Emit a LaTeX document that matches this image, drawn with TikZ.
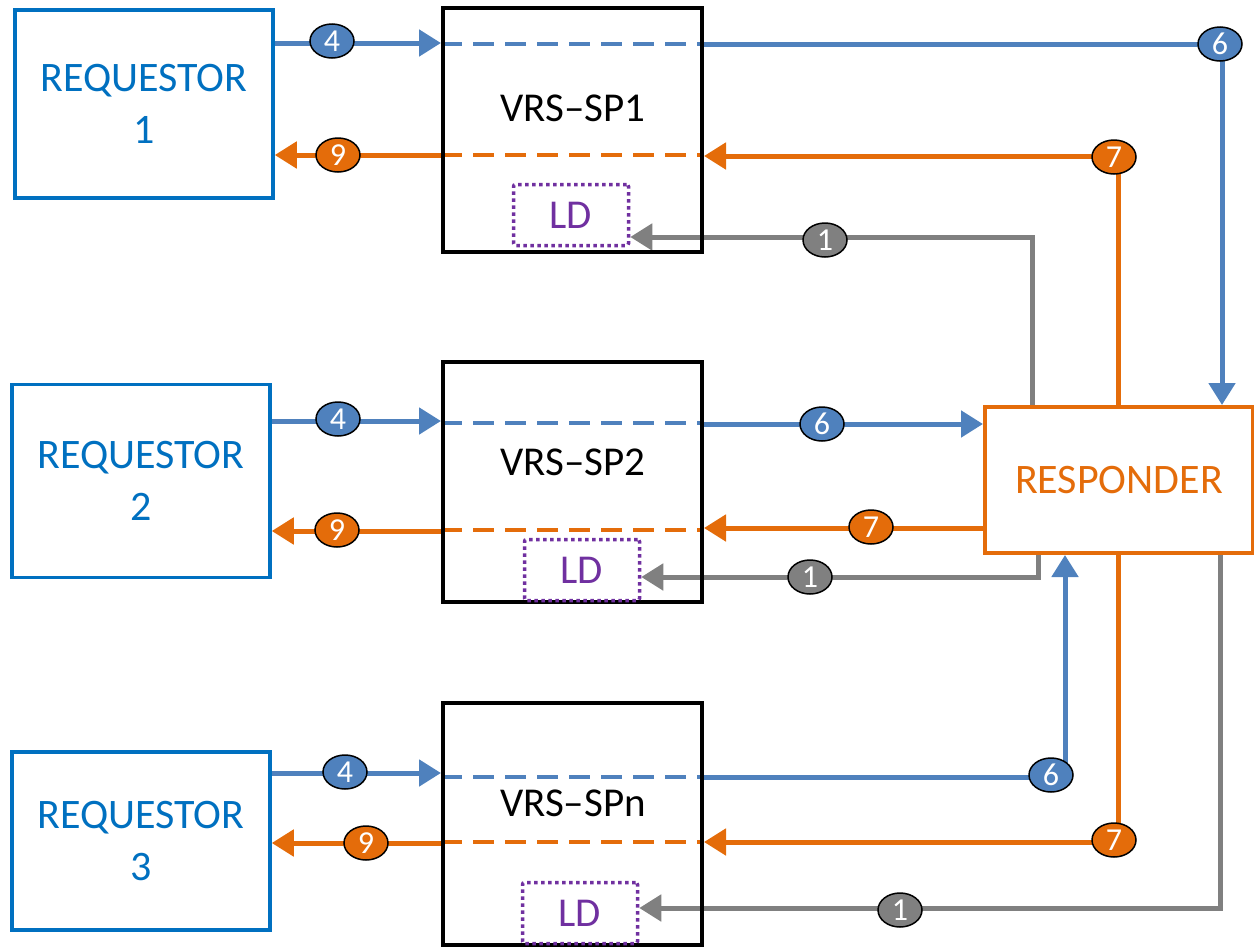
\documentclass[tikz,border=0pt]{standalone}
\usepackage{fontspec}
\setmainfont{Carlito}
\usetikzlibrary{arrows.meta,shapes.geometric}
\pgfdeclarelayer{background}
\pgfsetlayers{background,main}
\definecolor{reqblue}{HTML}{0070C0}
\definecolor{lblue}{HTML}{4F81BD}
\definecolor{orng}{HTML}{E46C0A}
\definecolor{gry}{HTML}{808080}
\definecolor{purp}{HTML}{7030A0}
\tikzset{
  reqbox/.style={draw=reqblue,line width=3.5pt,minimum width=258pt,align=center,text=reqblue,font=\fontsize{42}{52}\selectfont},
  spbox/.style={draw=black,line width=4pt,minimum width=259pt},
  splabel/.style={font=\fontsize{41}{44}\selectfont,text=black},
  ldbox/.style={draw=purp,line width=3.5pt,dash pattern=on 3.5pt off 3.5pt,minimum width=115pt,minimum height=61pt,text=purp,font=\fontsize{41}{44}\selectfont,rounded corners=2pt},
  respbox/.style={draw=orng,line width=4pt,minimum width=268pt,minimum height=146pt,text=orng,font=\fontsize{42}{48}\selectfont},
  badge/.style={ellipse,draw=black,line width=1.5pt,minimum width=44pt,minimum height=34pt,inner sep=0pt,text=white,font=\fontsize{32}{34}\selectfont},
  bbadge/.style={badge,fill=lblue},
  obadge/.style={badge,fill=orng},
  gbadge/.style={badge,fill=gry},
  arr/.style={-{Triangle[length=22pt,width=26pt]}},
  bline/.style={draw=lblue,line width=5pt},
  oline/.style={draw=orng,line width=5pt},
  gline/.style={draw=gry,line width=5pt},
  dline/.style={line width=4pt,dash pattern=on 21pt off 11pt},
}
\begin{document}
\begin{tikzpicture}[x=1pt,y=-1pt]
\useasboundingbox (0,0) rectangle (1254,948);
% boxes
\node[reqbox,minimum height=188pt] (req1) at (144,104) {REQUESTOR\\1};
\node[reqbox,minimum height=193pt] (req2) at (141,481) {REQUESTOR\\2};
\node[reqbox,minimum height=178pt] (req3) at (141,841) {REQUESTOR\\3};
\node[spbox,minimum height=244pt] (sp1) at (572.5,130) {};
\node[spbox,minimum height=240pt] (sp2) at (572.5,482) {};
\node[spbox,minimum height=242pt] (sp3) at (572.5,824) {};
\node[splabel] (sp1l) at (573,108) {VRS–SP1};
\node[splabel] (sp2l) at (573,462) {VRS–SP2};
\node[splabel] (sp3l) at (573,803) {VRS–SPn};
\node[ldbox] (ld1) at (571,215) {LD};
\node[ldbox] (ld2) at (582,570) {LD};
\node[ldbox] (ld3) at (580,913) {LD};
\node[respbox] (resp) at (1119,480) {RESPONDER};
% badges
\node[bbadge] (b4a) at (332,41) {4};
\node[obadge] (b9a) at (338,155) {9};
\node[bbadge] (b6a) at (1220,44) {6};
\node[obadge] (b7a) at (1114,157) {7};
\node[gbadge] (b1a) at (825,240) {1};
\node[bbadge] (b4b) at (338,419) {4};
\node[bbadge] (b6b) at (822,424) {6};
\node[obadge] (b9b) at (337,530) {9};
\node[obadge] (b7b) at (871,527) {7};
\node[gbadge] (b1b) at (810,577) {1};
\node[bbadge] (b4c) at (345,772) {4};
\node[bbadge] (b6c) at (1051,775) {6};
\node[obadge] (b9c) at (366,843) {9};
\node[obadge] (b7c) at (1114,840) {7};
\node[gbadge] (b1c) at (900,910) {1};
% bend coordinates
\coordinate (c6a) at (1222,44);
\coordinate (c7a) at (1118,156);
\coordinate (c1a) at (1032,237);
\coordinate (c1b) at (1038,577);
\coordinate (c6c) at (1065,777);
\coordinate (c7c) at (1118,842);
\coordinate (c1c) at (1220,908);
\begin{pgfonlayer}{background}
% row 1
\draw[bline,arr] (req1.east |- 0,43) -- (sp1.west |- 0,43);
\draw[draw=lblue,dline] (sp1.west |- 0,44) -- (sp1.east |- 0,44);
\draw[bline] (sp1.east |- 0,44) -- (c6a);
\draw[bline,arr] (c6a) -- (resp.north -| c6a);
\draw[oline,arr] (sp1.west |- 0,155) -- (req1.east |- 0,155);
\draw[draw=orng,dline] (sp1.west |- 0,155) -- (sp1.east |- 0,155);
\draw[oline,arr] (resp.north -| c7a) -- (c7a) -- (sp1.east |- c7a);
\draw[gline,arr] (resp.north -| c1a) -- (c1a) -- (ld1.east |- c1a);
% row 2
\draw[bline,arr] (req2.east |- 0,421) -- (sp2.west |- 0,421);
\draw[draw=lblue,dline] (sp2.west |- 0,423) -- (sp2.east |- 0,423);
\draw[bline,arr] (sp2.east |- 0,424) -- (resp.west |- 0,424);
\draw[oline,arr] (sp2.west |- 0,531) -- (req2.east |- 0,531);
\draw[draw=orng,dline] (sp2.west |- 0,530) -- (sp2.east |- 0,530);
\draw[oline,arr] (resp.west |- 0,528) -- (sp2.east |- 0,528);
\draw[gline,arr] (resp.south -| c1b) -- (c1b) -- (ld2.east |- c1b);
% row 3
\draw[bline,arr] (req3.east |- 0,773) -- (sp3.west |- 0,773);
\draw[draw=lblue,dline] (sp3.west |- 0,777) -- (sp3.east |- 0,777);
\draw[bline,arr] (sp3.east |- c6c) -- (c6c) -- (resp.south -| c6c);
\draw[oline,arr] (sp3.west |- 0,843) -- (req3.east |- 0,843);
\draw[draw=orng,dline] (sp3.west |- 0,842) -- (sp3.east |- 0,842);
\draw[oline,arr] (resp.south -| c7c) -- (c7c) -- (sp3.east |- c7c);
\draw[gline,arr] (resp.south -| c1c) -- (c1c) -- (ld3.east |- c1c);
\end{pgfonlayer}
\end{tikzpicture}
\end{document}
